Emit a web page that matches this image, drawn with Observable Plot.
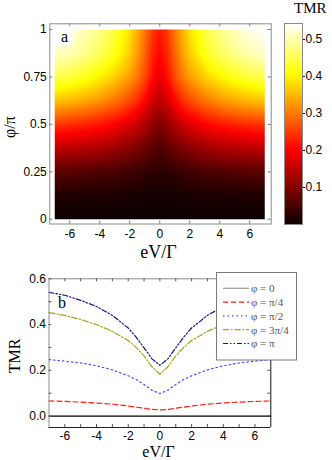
<!DOCTYPE html>
<html><head><meta charset="utf-8">
<script src="https://cdn.jsdelivr.net/npm/d3@7"></script>
<script src="https://cdn.jsdelivr.net/npm/@observablehq/plot@0.6"></script>
<style>
body{margin:0;background:#fff;}
#wrap{position:relative;width:332px;height:460px;overflow:hidden;background:#fff;}
#wrap > svg{position:absolute;}
</style></head><body><div id="wrap"></div>
<script>
// ---- data ----
const biasV = [-7,-6,-5,-4,-3,-2,-1.5,-1,-0.5,0,0.5,1,1.5,2,3,4,5,6,7];
const phiRows = [0,0.125,0.25,0.375,0.5,0.625,0.75,0.875,1];
const tmrPhi0    = [0,0,0,0,0,0,0,0,0,0,0,0,0,0,0,0,0,0,0];
const tmrPhiPi8  = [0.017,0.017,0.016,0.015,0.014,0.012,0.011,0.009,0.008,0.007,0.008,0.009,0.011,0.012,0.014,0.015,0.016,0.017,0.017];
const tmrPhiPi4  = [0.066,0.064,0.061,0.057,0.052,0.044,0.039,0.034,0.029,0.027,0.029,0.034,0.039,0.044,0.052,0.057,0.061,0.064,0.066];
const tmrPhi3Pi8 = [0.150,0.146,0.140,0.133,0.122,0.105,0.095,0.082,0.067,0.058,0.067,0.082,0.095,0.105,0.122,0.133,0.140,0.146,0.150];
const tmrPhiPi2  = [0.247,0.240,0.232,0.220,0.202,0.176,0.160,0.138,0.113,0.098,0.113,0.138,0.160,0.176,0.202,0.220,0.232,0.240,0.247];
const tmrPhi5Pi8 = [0.360,0.352,0.340,0.322,0.297,0.262,0.238,0.207,0.170,0.148,0.170,0.207,0.238,0.262,0.297,0.322,0.340,0.352,0.360];
const tmrPhi3Pi4 = [0.452,0.440,0.422,0.400,0.370,0.330,0.300,0.263,0.215,0.183,0.215,0.263,0.300,0.330,0.370,0.400,0.422,0.440,0.452];
const tmrPhi7Pi8 = [0.515,0.503,0.482,0.457,0.420,0.368,0.330,0.285,0.234,0.207,0.234,0.285,0.330,0.368,0.420,0.457,0.482,0.503,0.515];
const tmrPhiPi   = [0.541,0.528,0.506,0.479,0.440,0.385,0.345,0.298,0.250,0.222,0.250,0.298,0.345,0.385,0.440,0.479,0.506,0.528,0.541];

const legendLabels = ["φ = 0","φ = π/4","φ = π/2","φ = 3π/4","φ = π"];
const heatXTicks = [-6,-4,-2,0,2,4,6];
const heatYTicks = [0,0.25,0.5,0.75,1];
const barTicks = [0.1,0.2,0.3,0.4,0.5];
const bXTicks = [-6,-4,-2,0,2,4,6];
const bXMinor = [-6,-5,-4,-3,-2,-1,0,1,2,3,4,5,6];
const bYTicks = [0,0.2,0.4,0.6];
const bYMinor = [0,0.1,0.2,0.3,0.4,0.5,0.6];
const heatXDomain = [-7.33, 7.43];
const heatYDomain = [-0.025, 1.03];
const tmrDomain = [0, 0.543];
const bXDomain = [-7, 7];
const bYDomain = [-0.05, 0.6];

// ---- helpers ----
const wrap = document.getElementById("wrap");
const place = (svg, left, top) => { svg.style.left = left + "px"; svg.style.top = top + "px"; wrap.appendChild(svg); };
const baseStyle = {fontFamily: "'Liberation Sans', Arial, sans-serif", fontSize: "12px", color: "#000", background: "transparent", overflow: "visible"};
const hot = {type: "linear", domain: [tmrDomain[0], 0.375*tmrDomain[1], 0.75*tmrDomain[1], tmrDomain[1]],
             range: ["#0b0000", "#ff0000", "#ffff00", "#ffffff"], interpolate: "rgb", clamp: true};

// ---- panel a: heatmap ----
const gridRows = [tmrPhi0, tmrPhiPi8, tmrPhiPi4, tmrPhi3Pi8, tmrPhiPi2, tmrPhi5Pi8, tmrPhi3Pi4, tmrPhi7Pi8, tmrPhiPi];
const grid = [];
phiRows.forEach((p, i) => biasV.forEach((v, j) => grid.push({v, phi: p, tmr: gridRows[i][j]})));

const aW = 280, aH = 262, aML = 49.3, aMT = 23.3, aMR = 9.3, aMB = 38.5;
const aFW = aW - aML - aMR, aFH = aH - aMT - aMB;
const plotA = Plot.plot({
  width: aW, height: aH, marginLeft: aML, marginTop: aMT, marginRight: aMR, marginBottom: aMB,
  style: baseStyle,
  x: {domain: heatXDomain, label: null},
  y: {domain: heatYDomain, label: null},
  color: hot,
  marks: [
    Plot.raster(grid, {x: "v", y: "phi", fill: "tmr", x1: biasV[0], x2: biasV[biasV.length-1], y1: phiRows[0], y2: phiRows[phiRows.length-1], interpolate: "barycentric"}),
    Plot.frame({stroke: "#8a8a8a"}),
    Plot.tickX(heatXTicks, {x: d => d, insetTop: aFH - 3, stroke: "#777"}),
    Plot.tickX(heatXTicks, {x: d => d, insetBottom: aFH - 3, stroke: "#777"}),
    Plot.tickY(heatYTicks, {y: d => d, insetRight: aFW - 3, stroke: "#777"}),
    Plot.tickY(heatYTicks, {y: d => d, insetLeft: aFW - 3, stroke: "#777"}),
    Plot.axisX({ticks: heatXTicks, tickSize: 0, tickPadding: 5, tickFormat: d => String(d), label: null}),
    Plot.axisY({ticks: heatYTicks, tickSize: 0, tickPadding: 3, tickFormat: d => String(d), label: null})
  ]
});
place(plotA, 0, 0);

// ---- colorbar ----
const plotBar = Plot.plot({
  width: 52, height: 262, marginLeft: 4, marginRight: 30, marginTop: 23, marginBottom: 38,
  style: baseStyle,
  x: {domain: [0, 1], axis: null},
  y: {domain: tmrDomain, label: null},
  color: hot,
  marks: [
    Plot.raster({fill: (x, y) => y, x1: 0, x2: 1, y1: tmrDomain[0], y2: tmrDomain[1]}),
    Plot.frame({stroke: "#8a8a8a"}),
    Plot.axisY({anchor: "right", ticks: barTicks, tickSize: 2, tickPadding: 1, tickFormat: d => d.toFixed(1), label: null})
  ]
});
place(plotBar, 280, 0);

// ---- panel b: line chart ----
const lineRows = [tmrPhi0, tmrPhiPi4, tmrPhiPi2, tmrPhi3Pi4, tmrPhiPi];
const lineColors = ["#000000", "#ff2020", "#4a4aff", "#a5a21e", "#14147a"];
const legendColors = ["#9a9a9a", "#ff2020", "#4a4aff", "#a5a21e", "#14147a"];
const lineDashes = [null, "5,3", "1.5,3", "6,2,1.5,2", "5,2,1.5,2,1.5,2"];

const bTop = 262, bW = 332, bH = 198, bML = 48.5, bMT = 16.3, bMR = 61.7, bMB = 33;
const bFW = bW - bML - bMR, bFH = bH - bMT - bMB;
const plotB = Plot.plot({
  width: bW, height: bH, marginLeft: bML, marginTop: bMT, marginRight: bMR, marginBottom: bMB,
  style: baseStyle,
  x: {domain: bXDomain, label: null},
  y: {domain: bYDomain, label: null},
  marks: [
    ...lineRows.map((vals, i) => Plot.line(biasV.map((v, j) => ({v, t: vals[j]})),
      {x: "v", y: "t", stroke: lineColors[i], strokeWidth: i === 0 ? 1.3 : 1.2, strokeDasharray: lineDashes[i]})),
    Plot.ruleY([bYDomain[1]], {stroke: "#8a8a8a"}),
    Plot.ruleX([bXDomain[0]], {stroke: "#8a8a8a"}),
    Plot.ruleY([bYDomain[0]], {stroke: "#222"}),
    Plot.ruleX([bXDomain[1]], {stroke: "#111"}),
    Plot.tickX(bXMinor, {x: d => d, insetTop: bFH - 3, stroke: "#555"}),
    Plot.tickX(bXMinor, {x: d => d, insetBottom: bFH - 3, stroke: "#555"}),
    Plot.tickY(bYMinor, {y: d => d, insetRight: bFW - 3, stroke: "#555"}),
    Plot.tickY(bYMinor, {y: d => d, insetLeft: bFW - 3, stroke: "#555"}),
    Plot.axisX({ticks: bXTicks, tickSize: 0, tickPadding: 4, tickFormat: d => String(d), label: null}),
    Plot.axisY({ticks: bYTicks, tickSize: 0, tickPadding: 3, tickFormat: d => d.toFixed(1), label: null})
  ]
});
place(plotB, 0, bTop);

// ---- overlay: titles, panel letters, legend ----
const ov = d3.create("svg").attr("width", 332).attr("height", 460)
  .style("left", "0px").style("top", "0px").style("position", "absolute");
const serif = "'Liberation Serif', 'Times New Roman', serif";
const txt = (s, x, y, size, opts = {}) => {
  const t = ov.append("text").attr("x", x).attr("y", y).text(s)
    .attr("font-family", serif).attr("font-size", size).attr("fill", opts.fill || "#000")
    .attr("text-anchor", opts.anchor || "start");
  if (opts.rotate) t.attr("transform", `rotate(${opts.rotate},${x},${y})`);
  return t;
};
txt("TMR", 294, 12.5, 15);
txt("φ/π", 15, 127, 16, {anchor: "middle", rotate: -90});
txt("eV/Γ", 158.5, 258, 18, {anchor: "middle"});
ov.append("rect").attr("x", 55).attr("y", 29).attr("width", 17.5).attr("height", 17).attr("fill", "#fff");
txt("a", 61, 42, 16);
txt("TMR", 20, 356, 16, {anchor: "middle", rotate: -90});
txt("eV/Γ", 158.5, 457, 16, {anchor: "middle"});
txt("b", 58, 308, 16);
// legend
const lg = ov.append("g");
lg.append("rect").attr("x", 216.5).attr("y", 272.5).attr("width", 80).attr("height", 87.5)
  .attr("fill", "#fff").attr("stroke", "#7a7a7a");
legendLabels.forEach((lab, i) => {
  const y = 288.3 + i * 13.8;
  lg.append("line").attr("x1", 223).attr("x2", 249).attr("y1", y).attr("y2", y)
    .attr("stroke", legendColors[i]).attr("stroke-width", 1.2)
    .attr("stroke-dasharray", lineDashes[i]);
  txt(lab, 251, y + 3.8, 11, {fill: "#555"});
});
wrap.appendChild(ov.node());
</script></body></html>
